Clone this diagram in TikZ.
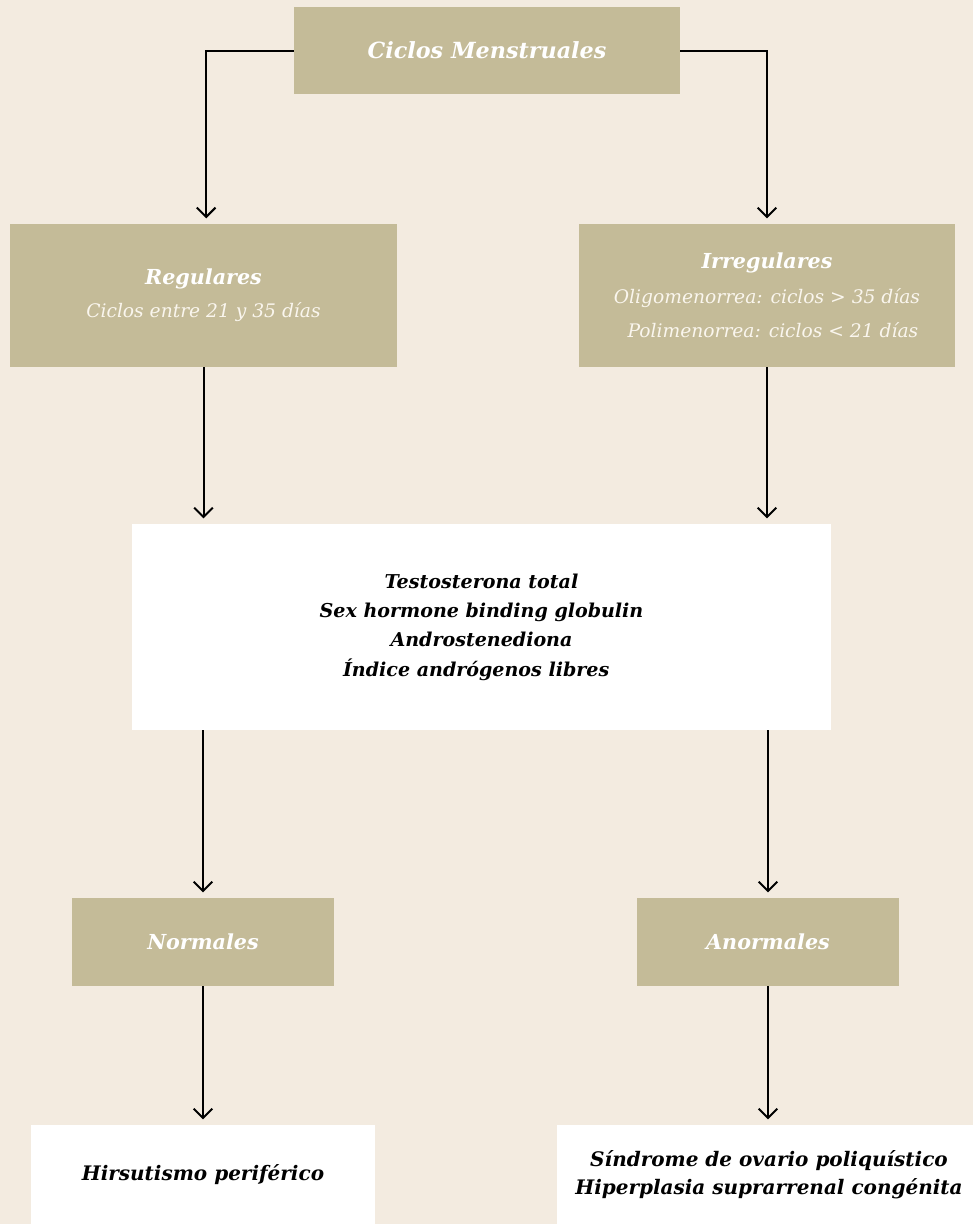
\documentclass[tikz,border=0pt]{standalone}
\usepackage{fontspec}
\setmainfont{DejaVu Serif}
\usepackage{xcolor}
\usetikzlibrary{arrows.meta}
\definecolor{paper}{HTML}{F3EBE0}
\definecolor{khaki}{HTML}{C4BB98}
\definecolor{softwhite}{HTML}{FAF6EE}

\begin{document}
\begin{tikzpicture}[
    x=0.75pt, y=-0.75pt,
    tanbox/.style={fill=khaki, inner sep=0pt, align=center, text=white},
    labbox/.style={fill=white, inner sep=0pt, align=center, text=black},
    head/.style={font=\fontsize{15.5}{22}\selectfont\bfseries\itshape},
    >={Straight Barb[length=7pt,width=14pt]},
    arr/.style={->, line width=1.5pt, shorten >=4pt},
]
    % Background
    \fill[paper] (0,0) rectangle (973,1224);
    \useasboundingbox (0,0) rectangle (973,1224);

    % Top
    \node[tanbox, minimum width=289.5pt, minimum height=65.25pt, font=\fontsize{16.7}{22}\selectfont\bfseries\itshape] (ciclos) at (487, 50.5) {Ciclos Menstruales};

    % Regular / irregular cycles
    \node[tanbox, minimum width=290.25pt, minimum height=107.25pt, font=\fontsize{14}{25}\selectfont\itshape] (reg) at (203.5, 295.5)
        {{\fontsize{15.5}{25}\selectfont\bfseries Regulares}\\
         {\color{softwhite}Ciclos entre 21 y 35 días}};
    \node[tanbox, minimum width=282pt, minimum height=107.25pt, font=\fontsize{14}{26}\selectfont\itshape] (irr) at (767, 295.5)
        {{\fontsize{15.5}{26}\selectfont\bfseries Irregulares}\\
         {\color{softwhite}Oligomenorrea: ciclos > 35 días}\\
         {\color{softwhite}\ \ Polimenorrea: ciclos < 21 días}};

    % Lab tests
    \node[labbox, minimum width=524.25pt, minimum height=154.5pt, font=\fontsize{14.3}{22}\selectfont\bfseries\itshape] (lab) at (481.5, 627)
        {Testosterona total\\Sex hormone binding globulin\\Androstenediona\\Índice andrógenos libres\hspace*{8pt}};

    % Results
    \node[tanbox, head, minimum width=196.5pt, minimum height=66pt] (nor) at (203, 942) {Normales};
    \node[tanbox, head, minimum width=196.5pt, minimum height=66pt] (anor) at (768, 942) {Anormales};

    % Diagnosis
    \node[labbox, minimum width=258pt, minimum height=74.25pt, font=\fontsize{15}{21}\selectfont\bfseries\itshape] (hir) at (203, 1174.5)
        {Hirsutismo periférico};
    \node[labbox, minimum width=312pt, minimum height=74.25pt, font=\fontsize{15}{21}\selectfont\bfseries\itshape] (sop) at (765, 1174.5)
        {\hspace*{6pt}Síndrome de ovario poliquístico\\\hspace*{6pt}Hiperplasia suprarrenal congénita};

    % Arrows
    \draw[arr] (ciclos.west) -| ([xshift=2pt]reg.north);
    \draw[arr] (ciclos.east) -| (irr.north);
    \draw[arr] (reg.south) -- (reg.south |- lab.north);
    \draw[arr] (irr.south) -- (irr.south |- lab.north);
    \draw[arr] (nor.north |- lab.south) -- (nor.north);
    \draw[arr] (anor.north |- lab.south) -- (anor.north);
    \draw[arr] (nor.south) -- (hir.north);
    \draw[arr] (anor.south) -- (anor.south |- sop.north);
\end{tikzpicture}
\end{document}
